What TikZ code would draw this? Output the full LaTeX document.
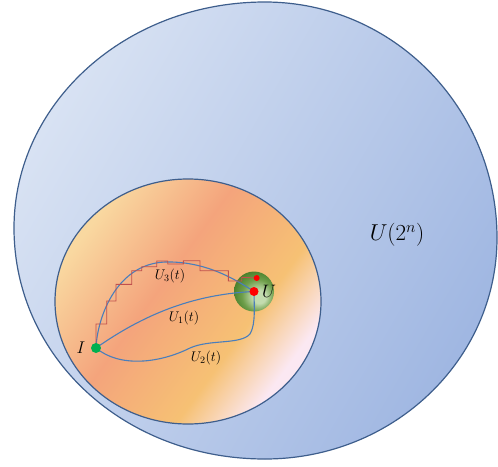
\RequirePackage{fix-cm}
\documentclass[tikz,border=0pt]{standalone}
\usetikzlibrary{positioning}

\definecolor{edgeblue}{RGB}{62,94,140}
\definecolor{curveblue}{RGB}{74,126,187}
\definecolor{stairred}{RGB}{192,80,77}
\definecolor{dotred}{RGB}{255,0,0}
\definecolor{dotgreen}{RGB}{0,176,80}
\definecolor{outerA}{RGB}{216,226,243}
\definecolor{outerB}{RGB}{160,183,226}
\definecolor{innerA}{RGB}{249,216,160}
\definecolor{innerB}{RGB}{244,164,124}
\definecolor{innerC}{RGB}{246,193,116}
\definecolor{innerD}{RGB}{251,232,242}
\definecolor{ballA}{RGB}{195,220,175}
\definecolor{ballB}{RGB}{110,158,74}
\definecolor{ballC}{RGB}{62,118,34}

\pgfdeclarehorizontalshading{outershade}{100bp}{color(0bp)=(outerA); color(25bp)=(outerA); color(75bp)=(outerB); color(100bp)=(outerB)}
\pgfdeclarehorizontalshading{innershade}{100bp}{color(0bp)=(innerA); color(26bp)=(innerA); color(44bp)=(innerB); color(62bp)=(innerC); color(73bp)=(innerD); color(100bp)=(innerD)}
\pgfdeclareradialshading{ballshade}{\pgfpoint{8bp}{-8bp}}{color(0bp)=(ballA); color(8bp)=(ballA); color(20bp)=(ballB); color(33bp)=(ballC); color(50bp)=(ballC)}

\begin{document}
\begin{tikzpicture}[x=1pt,y=-1pt,
    rim/.style={draw=edgeblue, line width=1.2pt},
    trajline/.style={draw=curveblue, line width=1.1pt},
    stairline/.style={draw=stairred, line width=0.9pt},
    dot/.style={circle, inner sep=0pt, minimum size=#1},
    lbl/.style={font=\fontsize{14}{16}\selectfont}]
    \useasboundingbox (0,0) rectangle (498,466);

    % Draw the outer region U(2^n)
    \shadedraw[rim, shading=outershade, shading angle=-30]
        (265,2) .. controls (393,2) and (497,108) .. (497,238)
        .. controls (497,360) and (393,459) .. (265,459)
        .. controls (124,459) and (14,357) .. (14,228)
        .. controls (14,103) and (126,2) .. (265,2) -- cycle;
    \node[font=\fontsize{23}{27}\selectfont] (space) at (397,235) {$U(2^n)$};

    % Draw the inner region
    \shadedraw[rim, shading=innershade, shading angle=-36] (188,301.5) ellipse (133 and 122.5);

    % Draw the neighbourhood ball of U
    \shade[shading=ballshade] (254,291.5) circle (20);

    % Define the end points
    \node[dot=10pt] (I) at (96,348) {};
    \node[dot=9pt] (U) at (254,291.5) {};
    \node[dot=6pt] (Ua) at (256.7,278) {};

    % Draw the three paths
    \draw[trajline] (I.center) .. controls (150,310) and (200,294) .. (U.center);
    \draw[trajline] (I.center) .. controls (120,368) and (160,363) .. (190,348)
        .. controls (210,339) and (240,345) .. (250,334)
        .. controls (256,324) and (254,305) .. (U.center);
    \draw[trajline] (I.center) .. controls (97,320) and (115,264) .. (165,262)
        .. controls (205,261) and (235,279) .. (U.center);

    % Draw the piecewise constant path
    \draw[stairline] (I.center) -- (96,324) -- (106.7,324) -- (106.7,301) -- (116,301)
        -- (116,284.3) -- (131.7,284.3) -- (131.7,270.7) -- (141.7,270.7) -- (141.7,266.7)
        -- (156.7,266.7) -- (156.7,261) -- (167.7,261) -- (167.7,264) -- (183.3,264)
        -- (183.3,260.7) -- (200,260.7) -- (200,270.7) -- (228.3,270.7) -- (228.3,281)
        -- (241.7,281) -- (241.7,277.3) -- (Ua.center);

    % Draw the dots on top
    \fill[dotgreen] (I) circle (5);
    \fill[dotred] (U) circle (4.5);
    \fill[dotred] (Ua) circle (3);

    % Labels
    \node[font=\fontsize{17}{19}\selectfont, left=2pt of I] (lblI) {$I$};
    \node[font=\fontsize{18}{20}\selectfont, right=0pt of U] (lblU) {$U$};
    \node[lbl] (lblthree) at (170,276) {$U_3(t)$};
    \node[lbl] (lblone) at (184,318) {$U_1(t)$};
    \node[lbl] (lbltwo) at (206,358) {$U_2(t)$};
\end{tikzpicture}
\end{document}
